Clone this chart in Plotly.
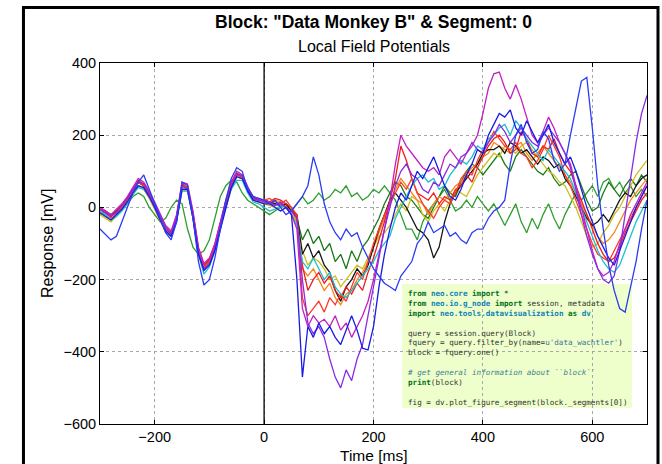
import plotly.graph_objects as go

# ---------------- data ----------------
TIME_MS = list(range(-300, 701, 10))
X_TICKS = [-200, 0, 200, 400, 600]
Y_TICKS = [-600, -400, -200, 0, 200, 400]

green_1 = [
    -20, -10, -20, -10, 0, 10, 30, 40, 30, 0,
    -20, -40, -30, 0, 20, 10, -60, -110, -130, -120,
    -90, -30, 30, 60, 75, 70, 40, 20, 10, 0,
    -10, -20, -10, 0, 10, -10, 10, 30, 10, 20,
    40, 20, 30, 50, 40, 60, 30, 40, 20, 30,
    50, 40, 60, 40, 20, -20, -60, -60, -90, -40,
    -10, 10, 30, 50, 20, -10, 0, 20, 0, 30,
    10, -10, 10, -20, -50, -20, 10, -40, -70, -30,
    -60, -20, 10, -30, -60, -20, 10, 40, 20, 40,
    60, 30, 70, 80, 50, 70, 40, 60, 30, 50,
    30]

green_2 = [
    -5, -15, -25, -10, 5, 25, 50, 70, 60, 30,
    0, -35, -65, -80, -35, 55, 50, -25, -125, -160,
    -145, -105, -45, 15, 65, 95, 85, 55, 30, 20,
    20, 15, 10, 5, 0, -10, -30, -90, -60, -100,
    -80, -120, -100, -150, -130, -170, -120, -150, -110, -90,
    -60, -30, 10, 40, 70, 60, 30, 20, 0, -20,
    -30, 0, 30, 60, 40, 30, 70, 100, 120, 110,
    90, 110, 130, 150, 120, 100, 140, 160, 140, 120,
    100, 90, 110, 80, 60, 70, 90, 100, 60, 20,
    -10, 0, 40, 70, 50, 30, 60, 80, 60, 90,
    70]

yellow = [
    -20, -30, -40, -25, -5, 15, 40, 60, 55, 30,
    0, -35, -65, -75, -35, 55, 50, -25, -125, -170,
    -155, -115, -55, 5, 55, 85, 80, 45, 20, 15,
    10, 5, 0, -10, 0, -20, -40, -120, -160, -140,
    -150, -170, -200, -190, -220, -200, -180, -160, -170, -140,
    -110, -80, -70, -50, -20, 10, -10, 30, 20, -20,
    -40, -10, 10, -10, 20, 50, 40, 30, 60, 90,
    110, 130, 150, 140, 170, 160, 150, 170, 180, 160,
    140, 120, 100, 90, 70, 60, 30, 0, -40, -80,
    -110, -100, -70, -50, -20, 0, 30, 60, 90, 110,
    130]

orange = [
    -15, -25, -35, -20, 0, 20, 40, 60, 50, 25,
    -5, -40, -70, -80, -35, 50, 45, -30, -130, -170,
    -155, -115, -55, 5, 55, 85, 80, 45, 20, 15,
    15, 10, 20, 15, 5, -10, -40, -170, -190, -170,
    -200, -230, -210, -250, -270, -240, -230, -200, -180, -150,
    -110, -70, -30, 10, 50, 80, 60, 40, 20, 10,
    -20, 10, 30, 20, 40, 60, 70, 90, 110, 120,
    140, 150, 180, 170, 160, 150, 170, 180, 150, 130,
    150, 170, 150, 130, 110, 90, 70, 40, 10, -20,
    -50, -80, -100, -90, -70, -40, -10, 20, 40, 60,
    80]

black = [
    -5, -15, -25, -10, 5, 25, 50, 70, 60, 35,
    5, -30, -60, -70, -25, 60, 55, -20, -120, -160,
    -145, -105, -45, 15, 60, 90, 85, 50, 25, 20,
    20, 15, 10, 5, 10, -10, -20, -130, -100, -140,
    -120, -160, -180, -230, -260, -220, -200, -170, -190, -160,
    -110, -60, -20, 20, 40, 20, 0, -30, -60, -70,
    -90, -140, -110, -40, 10, 40, 60, 80, 100, 120,
    150, 160, 160, 170, 150, 180, 170, 150, 160, 140,
    120, 140, 130, 110, 120, 80, 60, 30, 0, -30,
    -50, -40, -20, -40, -10, 20, 40, 30, 60, 80,
    90]

red_1 = [
    0, -10, -25, -10, 5, 25, 50, 75, 65, 40,
    10, -25, -55, -70, -25, 65, 55, -15, -115, -160,
    -145, -105, -45, 15, 65, 95, 85, 50, 25, 20,
    20, 15, 25, 20, 10, 0, -30, -160, -230, -200,
    -180, -210, -190, -230, -250, -220, -240, -210, -230, -180,
    -140, -90, -40, 20, 80, 170, 130, 80, 40, 30,
    20, 40, 10, 30, 20, 50, 60, 90, 70, 110,
    140, 170, 190, 200, 180, 150, 160, 210, 190, 150,
    140, 170, 160, 190, 150, 120, 100, 60, 20, -20,
    -60, -100, -130, -150, -140, -110, -70, -40, -10, 20,
    40]

red_2 = [
    -5, -15, -30, -20, 0, 20, 45, 70, 60, 35,
    5, -30, -60, -75, -30, 60, 55, -20, -120, -165,
    -150, -110, -50, 10, 60, 90, 85, 50, 25, 20,
    20, 25, 15, 10, 20, 0, -20, -250, -300, -280,
    -260, -290, -250, -270, -240, -260, -220, -180, -200, -150,
    -100, -60, -20, 10, 40, 70, 50, 80, 40, 10,
    -10, -30, 0, 20, 10, 40, 80, 100, 90, 130,
    160, 180, 210, 190, 170, 160, 180, 150, 140, 110,
    130, 160, 200, 170, 140, 90, 60, 20, -20, -60,
    -100, -130, -140, -150, -120, -90, -60, -30, 0, 30,
    60]

cyan = [
    -10, -20, -35, -25, -10, 10, 35, 55, 50, 30,
    0, -35, -65, -80, -35, 45, 45, -30, -130, -185,
    -165, -120, -60, 0, 50, 75, 75, 40, 15, 10,
    0, -10, -5, 5, 0, -20, -50, -150, -170, -140,
    -170, -200, -180, -220, -240, -250, -230, -210, -190, -170,
    -150, -120, -100, -80, -30, 0, 30, 60, 80, 90,
    70, 80, 50, 60, 90, 110, 130, 120, 140, 170,
    160, 190, 200, 220, 230, 200, 240, 220, 190, 170,
    150, 130, 160, 140, 120, 100, 80, 40, 0, -40,
    -80, -120, -150, -170, -180, -160, -120, -80, -40, -10,
    20]

magenta = [
    0, -10, -20, -5, 10, 30, 55, 80, 70, 45,
    15, -20, -50, -65, -20, 70, 65, -10, -110, -155,
    -140, -100, -40, 20, 70, 100, 90, 55, 30, 25,
    20, 15, 5, 10, 0, -20, -60, -280, -330, -300,
    -320, -310, -330, -300, -340, -320, -360, -330, -300, -260,
    -200, -130, -60, 20, 120, 200, 170, 150, 130, 110,
    100, 110, 90, 140, 160, 140, 120, 150, 170, 200,
    260, 330, 370, 375, 330, 300, 340, 300, 250, 200,
    180, 210, 250, 220, 180, 150, 120, 60, 0, -60,
    -120, -170, -190, -180, -150, -100, -60, -20, 10, 40,
    70]

purple = [
    -5, -15, -25, -15, 5, 25, 50, 70, 65, 40,
    10, -25, -55, -75, -30, 60, 50, -25, -125, -170,
    -155, -115, -55, 5, 55, 90, 90, 55, 25, 20,
    15, 10, 5, 15, 0, -10, -30, -200, -320, -350,
    -330, -360, -420, -470, -500, -450, -480, -420, -380, -300,
    -220, -140, -60, 0, 60, 100, 120, 90, 80, 50,
    40, 70, 60, 90, 120, 110, 140, 150, 180, 160,
    150, 180, 200, 230, 210, 180, 200, 220, 200, 180,
    170, 200, 220, 200, 180, 150, 110, 50, -20, -80,
    -130, -170, -200, -210, -190, -120, -20, 80, 180, 260,
    310]

blue_1 = [
    -15, -25, -35, -20, -5, 15, 40, 60, 55, 30,
    0, -35, -65, -80, -40, 50, 50, -30, -130, -175,
    -160, -120, -60, 0, 55, 85, 80, 45, 20, 15,
    10, 10, 0, -10, 0, -20, -200, -470, -330, -360,
    -320, -350, -330, -360, -380, -340, -300, -340, -390, -395,
    -330, -220, -130, -60, 0, 40, 20, 60, 100, 80,
    110, 140, 100, 60, 30, 20, 50, 90, 120, 160,
    150, 200, 230, 260, 250, 270, 220, 200, 240, 210,
    180, 200, 230, 180, 150, 120, 140, 100, 50, 0,
    -40, -80, -110, -140, -160, -120, -80, -40, 0, 30,
    60]

blue_2 = [
    -60, -75, -90, -80, -40, 0, 40, 70, 90, 50,
    10, -30, -70, -90, -40, 70, 60, -30, -150, -215,
    -200, -140, -60, 20, 80, 110, 100, 50, 30, 25,
    20, 10, 20, 0, -20, -10, 10, 30, 60, 140,
    90, 10, -40, -70, -90, -60, -80, -70, -110, -140,
    -170, -190, -210, -220, -230, -190, -170, -150, -100, -80,
    -40, -70, -60, -50, -80, -70, -90, -100, -70, -60,
    -60, -30, -10, 0, 20, 120, 200, 230, 180, 150,
    160, 210, 190, 130, 100, 120, 200, 280, 350, 360,
    220, 60, -60, -160, -230, -280, -290, -220, -150, -60,
    20]

SERIES = [green_1, green_2, yellow, orange, black, red_1, red_2,
          cyan, magenta, purple, blue_1, blue_2]
COLORS = ["#2e9e2e", "#1a7a1a", "#cdbf1c", "#f5881f", "#151515", "#ee1c1c",
          "#ff3a2a", "#1cbfcf", "#c21fc2", "#8a2be2", "#1a1ae6", "#2b3cf5"]

for s in SERIES:
    assert len(s) == len(TIME_MS), len(s)

# ---------------- figure ----------------
fig = go.Figure()
for vals, col in zip(SERIES, COLORS):
    fig.add_trace(go.Scatter(x=TIME_MS, y=vals, mode="lines",
                             line=dict(color=col, width=1.3),
                             hoverinfo="skip", showlegend=False))

FONT = "Liberation Sans, Arial, sans-serif"
axis_common = dict(
    showgrid=True, gridcolor="#a8a8a8", griddash="dot", gridwidth=1,
    showline=True, linecolor="black", linewidth=1, mirror="ticks",
    ticks="inside", ticklen=4, tickcolor="black",
    tickfont=dict(family=FONT, size=14.5, color="black"),
    zeroline=False,
)

fig.update_layout(
    width=662, height=464,
    margin=dict(l=100, r=15, t=63, b=40),
    paper_bgcolor="white", plot_bgcolor="white",
    showlegend=False,
    xaxis=dict(range=[-300, 700], tickvals=X_TICKS, **axis_common),
    yaxis=dict(range=[-600, 400], tickvals=Y_TICKS, **axis_common),
)

# outer frame (thick black border)
fig.add_shape(type="rect", xref="paper", yref="paper",
              x0=-0.1399, x1=1.0201, y0=-0.15, y1=1.1537,
              line=dict(color="black", width=3), fillcolor="rgba(0,0,0,0)",
              layer="above")

# vertical line at t = 0
fig.add_shape(type="line", xref="x", yref="y", x0=0, x1=0, y0=-600, y1=400,
              line=dict(color="black", width=1.3), layer="between")

# code box background
fig.add_shape(type="rect", xref="paper", yref="paper",
              x0=0.5521, x1=0.9726, y0=0.0443, y1=0.3878,
              line=dict(width=0), fillcolor="#eeffcc", layer="between")

def kw(t):
    return "<b><span style='color:#007020'>%s</span></b>" % t

def ns(t):
    return "<b><span style='color:#0e84b5'>%s</span></b>" % t

def st(t):
    return "<span style='color:#4070a0'>%s</span>" % t

def cm(t):
    return "<i><span style='color:#408090'>%s</span></i>" % t

code_lines = [
    kw("from") + " " + ns("neo.core") + " " + kw("import") + " *",
    kw("from") + " " + ns("neo.io.g_node") + " " + kw("import") + " session, metadata",
    kw("import") + " " + ns("neo.tools.datavisualization") + " " + kw("as") + " " + ns("dv"),
    "\u00a0",
    "query = session.query(Block)",
    "fquery = query.filter_by(name=" + st("u'data_wachtler'") + ")",
    "block = fquery.one()",
    "\u00a0",
    cm("# get general information about ``block``"),
    kw("print") + "(block)",
    "\u00a0",
    "fig = dv.plot_figure_segment(block._segments[0])",
]

fig.add_annotation(xref="paper", yref="paper", x=0.5576, y=0.3795,
                   xanchor="left", yanchor="top", align="left", showarrow=False,
                   text="<br>".join(code_lines),
                   font=dict(family="DejaVu Sans Mono", size=7.6, color="#333333"))

# titles
fig.add_annotation(xref="paper", yref="paper", x=0.5, y=1.1136,
                   xanchor="center", yanchor="middle", showarrow=False,
                   text="<b>Block: \"Data Monkey B\" &amp; Segment: 0</b>",
                   font=dict(family=FONT, size=17.5, color="black"))
fig.add_annotation(xref="paper", yref="paper", x=0.5, y=1.047,
                   xanchor="center", yanchor="middle", showarrow=False,
                   text="Local Field Potentials",
                   font=dict(family=FONT, size=16, color="black"))
fig.add_annotation(xref="paper", yref="paper", x=0.5, y=-0.086,
                   xanchor="center", yanchor="middle", showarrow=False,
                   text="Time [ms]",
                   font=dict(family=FONT, size=15.5, color="black"))
fig.add_annotation(xref="paper", yref="paper", x=-0.096, y=0.5,
                   xanchor="center", yanchor="middle", showarrow=False,
                   text="Response [mV]", textangle=-90,
                   font=dict(family=FONT, size=16, color="black"))

fig.write_html("out.html", config={"displayModeBar": False},
               post_script="document.body.style.margin='0';document.body.style.overflow='hidden';")
